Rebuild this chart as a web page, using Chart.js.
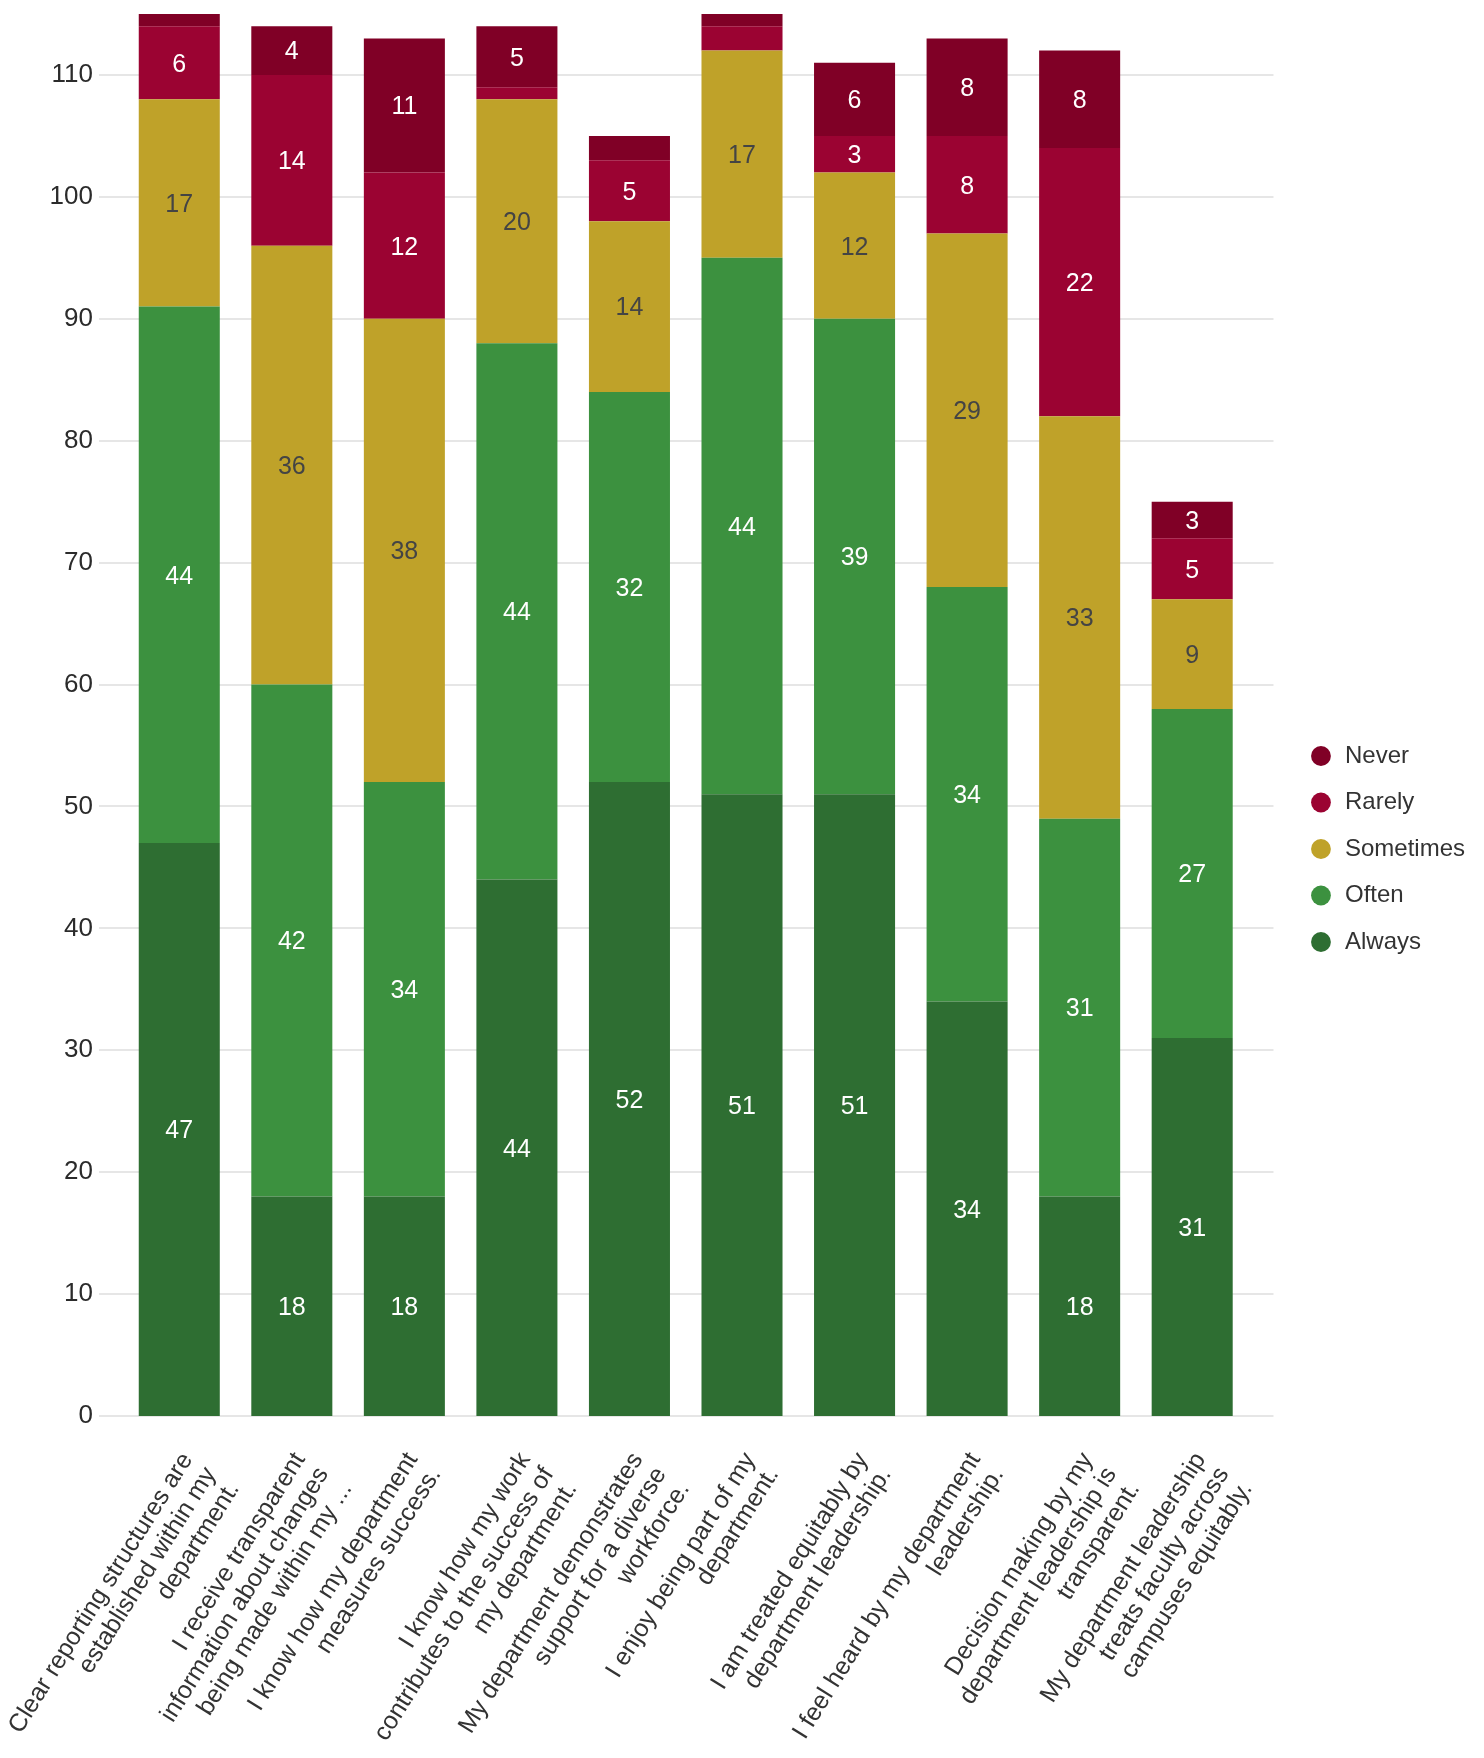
<!DOCTYPE html>
<html>
<head>
<meta charset="utf-8">
<script src="https://cdn.jsdelivr.net/npm/chart.js@4.4.1/dist/chart.umd.min.js"></script>
<style>
  html, body { margin: 0; padding: 0; background: #ffffff; }
  #wrap { width: 1484px; height: 1758px; position: relative; }
</style>
</head>
<body>
<div id="wrap"><canvas id="c"></canvas></div>
<script>
const categories = [
  ["Clear reporting structures are", "established within my", "department."],
  ["I receive transparent", "information about changes", "being made within my ..."],
  ["I know how my department", "measures success."],
  ["I know how my work", "contributes to the success of", "my department."],
  ["My department demonstrates", "support for a diverse", "workforce."],
  ["I enjoy being part of my", "department."],
  ["I am treated equitably by", "department leadership."],
  ["I feel heard by my department", "leadership."],
  ["Decision making by my", "department leadership is", "transparent."],
  ["My department leadership", "treats faculty across", "campuses equitably."]
];
const always    = [47, 18, 18, 44, 52, 51, 51, 34, 18, 31];
const often     = [44, 42, 34, 44, 32, 44, 39, 34, 31, 27];
const sometimes = [17, 36, 38, 20, 14, 17, 12, 29, 33, 9];
const rarely    = [6, 14, 12, 1, 5, 2, 3, 8, 22, 5];
const never     = [1, 4, 11, 5, 2, 1, 6, 8, 8, 3];
const yTicks    = [0, 10, 20, 30, 40, 50, 60, 70, 80, 90, 100, 110];

const FONT = "'Liberation Sans', Arial, sans-serif";

const gridPlugin = {
  id: 'extGrid',
  afterLayout(chart) {
    if (chart.legend) {
      chart.legend.bottom = 1698;
    }
  },
  beforeDatasetsDraw(chart) {
    const {ctx, chartArea} = chart;
    const y = chart.scales.y;
    ctx.save();
    ctx.strokeStyle = '#e6e6e6';
    ctx.lineWidth = 2;
    y.ticks.forEach(t => {
      const py = Math.round(y.getPixelForValue(t.value));
      ctx.beginPath();
      ctx.moveTo(chartArea.left - 24, py);
      ctx.lineTo(chartArea.right + 25, py);
      ctx.stroke();
    });
    ctx.restore();
  }
};

const labelPlugin = {
  id: 'segLabels',
  afterDatasetsDraw(chart) {
    const {ctx} = chart;
    ctx.save();
    ctx.font = '25px ' + FONT;
    ctx.textAlign = 'center';
    ctx.textBaseline = 'middle';
    chart.data.datasets.forEach((ds, di) => {
      const meta = chart.getDatasetMeta(di);
      meta.data.forEach((el, i) => {
        const v = ds.data[i];
        if (v < 3) return;
        ctx.fillStyle = ds.labelColor;
        ctx.fillText(String(v), el.x, (el.y + el.base) / 2 + 2);
      });
    });
    ctx.restore();
  }
};

new Chart(document.getElementById('c'), {
  type: 'bar',
  data: {
    labels: categories,
    datasets: [
      {label: 'Always', data: always, backgroundColor: '#2e6e32', labelColor: '#ffffff'},
      {label: 'Often', data: often, backgroundColor: '#3c913f', labelColor: '#ffffff'},
      {label: 'Sometimes', data: sometimes, backgroundColor: '#bfa229', labelColor: '#444444'},
      {label: 'Rarely', data: rarely, backgroundColor: '#9b0332', labelColor: '#ffffff'},
      {label: 'Never', data: never, backgroundColor: '#800026', labelColor: '#ffffff'}
    ]
  },
  plugins: [gridPlugin, labelPlugin],
  options: {
    responsive: true,
    maintainAspectRatio: false,
    animation: false,
    layout: {padding: {top: 0, left: 0, right: 9, bottom: 0}},
    plugins: {
      tooltip: {enabled: false},
      legend: {
        position: 'right',
        reverse: true,
        labels: {
          usePointStyle: true,
          pointStyle: 'circle',
          boxWidth: 28,
          boxHeight: 14,
          padding: 22.5,
          color: '#333333',
          font: {family: FONT, size: 24}
        }
      }
    },
    scales: {
      x: {
        stacked: true,
        grid: {display: false},
        border: {display: false},
        ticks: {
          autoSkip: false,
          maxRotation: 58,
          minRotation: 58,
          padding: 24,
          labelOffset: 8,
          color: '#333333',
          font: {family: FONT, size: 25, lineHeight: 1.1}
        },
        afterFit(scale) {
          scale.height = 342;
          scale.paddingLeft = 0;
          scale.paddingRight = 0;
        }
      },
      y: {
        stacked: true,
        min: 0,
        max: 115,
        grid: {display: false},
        border: {display: false},
        ticks: {
          stepSize: 10,
          padding: 22,
          color: '#2b2b2b',
          font: {family: FONT, size: 26, lineHeight: 1}
        },
        afterBuildTicks(scale) {
          scale.ticks = yTicks.map(v => ({value: v}));
        },
        afterFit(scale) {
          scale.width = 123;
          scale.paddingTop = 14;
          scale.paddingBottom = 0;
        }
      },
      spacer: {
        type: 'linear',
        position: 'right',
        min: 0,
        max: 1,
        grid: {display: false},
        border: {display: false},
        ticks: {display: false},
        afterFit(scale) {
          scale.width = 38;
        }
      }
    }
  }
});
</script>
</body>
</html>
